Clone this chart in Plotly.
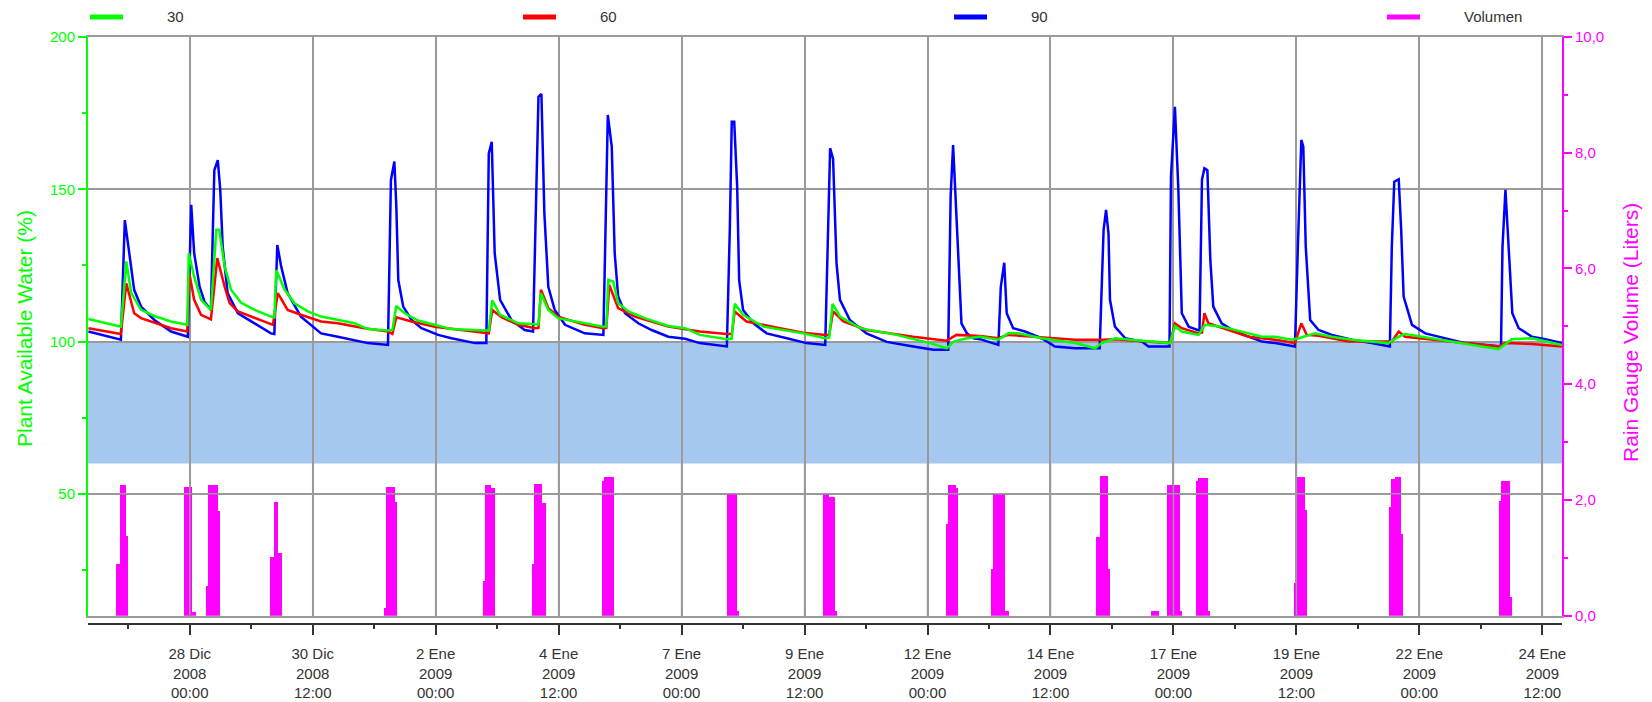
import pandas as pd
import plotly.graph_objects as go

BASE = pd.Timestamp("2008-12-28 00:00")

# [days after 28 Dic 2008 00:00, plant available water %]
pawc_30 = [
    (-2.06, 107.4), (-1.40, 104.9), (-1.29, 126.3), (-1.19, 115.9), (-0.99, 110.4), (-0.72, 108.4),
    (-0.38, 106.6), (-0.05, 105.5), (-0.02, 129.0), (0.09, 121.3), (0.23, 113.7), (0.43, 110.4),
    (0.54, 136.7), (0.60, 136.7), (0.71, 124.6), (0.84, 117.0), (1.04, 112.8), (1.32, 110.4),
    (1.65, 108.2), (1.72, 108.0), (1.76, 123.5), (1.93, 117.0), (2.13, 112.6), (2.40, 109.9),
    (2.67, 108.2), (3.01, 107.1), (3.35, 106.0), (3.62, 104.1), (4.03, 103.6), (4.12, 103.8),
    (4.20, 111.7), (4.37, 109.3), (4.64, 106.9), (4.98, 105.5), (5.32, 104.1), (6.00, 103.6),
    (6.08, 103.6), (6.15, 113.5), (6.31, 108.8), (6.68, 106.0), (7.02, 105.5), (7.09, 105.6),
    (7.14, 115.9), (7.29, 110.4), (7.49, 107.7), (8.03, 106.2), (8.41, 104.9), (8.47, 105.0),
    (8.51, 120.2), (8.61, 119.7), (8.71, 112.6), (8.92, 109.9), (9.25, 107.7), (9.73, 105.1),
    (10.07, 104.4), (10.37, 102.2), (10.92, 100.8), (11.02, 101.0), (11.08, 112.4), (11.25, 108.8),
    (11.66, 104.9), (12.47, 102.7), (12.92, 101.1), (13.00, 101.3), (13.07, 112.4), (13.22, 108.2),
    (13.63, 104.4), (14.37, 102.2), (15.05, 99.5), (15.39, 97.8), (15.53, 100.0), (15.80, 101.1),
    (16.07, 101.6), (16.44, 100.6), (16.64, 102.7), (16.85, 102.7), (17.32, 101.1), (18.00, 99.5),
    (18.41, 97.8), (18.54, 99.5), (18.81, 101.1), (19.36, 100.3), (19.93, 99.5), (20.03, 105.1),
    (20.17, 103.3), (20.51, 102.2), (20.64, 105.5), (20.98, 104.9), (21.39, 103.3), (21.80, 101.6),
    (22.07, 101.6), (22.41, 100.6), (22.54, 101.1), (22.88, 102.7), (23.22, 101.6), (23.63, 100.6),
    (24.37, 99.5), (24.58, 101.6), (24.71, 102.5), (25.25, 101.1), (25.93, 99.5), (26.61, 97.5),
    (26.88, 100.8), (27.29, 101.1), (27.90, 98.9),
]
pawc_60 = [
    (-2.06, 104.4), (-1.40, 102.5), (-1.29, 119.1), (-1.13, 109.3), (-0.99, 107.7), (-0.72, 106.2),
    (-0.38, 104.4), (-0.05, 103.3), (-0.01, 122.4), (0.09, 113.7), (0.23, 108.8), (0.43, 107.3),
    (0.56, 127.4), (0.71, 118.0), (0.81, 112.6), (0.98, 109.9), (1.32, 107.7), (1.69, 105.5),
    (1.79, 115.9), (1.99, 110.4), (2.26, 108.8), (2.67, 106.6), (3.01, 106.0), (3.55, 104.4),
    (4.03, 103.3), (4.12, 102.5), (4.20, 108.0), (4.51, 106.6), (4.98, 104.9), (6.00, 102.7),
    (6.08, 102.7), (6.15, 110.4), (6.34, 108.0), (6.68, 105.5), (7.02, 104.4), (7.09, 104.5),
    (7.14, 117.0), (7.29, 111.0), (7.49, 108.2), (8.03, 105.5), (8.41, 104.4), (8.47, 104.5),
    (8.53, 118.6), (8.71, 111.0), (9.05, 108.2), (9.73, 104.9), (10.07, 104.1), (10.37, 103.3),
    (10.92, 102.5), (11.02, 102.5), (11.08, 109.9), (11.32, 106.6), (12.00, 104.4), (12.47, 102.9),
    (12.92, 102.2), (13.00, 102.2), (13.08, 109.9), (13.29, 106.6), (13.76, 103.8), (14.71, 101.6),
    (15.39, 100.3), (15.59, 102.2), (16.07, 101.8), (16.44, 101.1), (16.64, 102.2), (17.32, 101.4),
    (18.00, 100.6), (18.54, 100.6), (18.81, 100.8), (19.93, 99.5), (20.03, 106.0), (20.17, 104.4),
    (20.51, 102.7), (20.58, 103.0), (20.63, 109.3), (20.71, 106.0), (21.12, 103.8), (21.53, 101.6),
    (22.07, 100.6), (22.47, 99.5), (22.60, 106.0), (22.71, 102.2), (22.95, 101.9), (23.56, 100.0),
    (24.44, 100.0), (24.58, 103.3), (24.71, 101.6), (25.25, 100.6), (25.93, 99.5), (26.61, 98.4),
    (26.75, 99.5), (27.29, 99.2), (27.90, 98.4),
]
pawc_90 = [
    (-2.06, 103.3), (-1.40, 100.6), (-1.32, 139.9), (-1.23, 129.0), (-1.13, 117.0), (-0.99, 111.5),
    (-0.72, 107.1), (-0.38, 103.3), (-0.04, 101.6), (0.03, 144.9), (0.09, 129.0), (0.20, 118.0),
    (0.30, 113.1), (0.43, 110.4), (0.50, 156.3), (0.57, 159.6), (0.62, 149.8), (0.67, 131.2),
    (0.77, 115.9), (0.98, 109.3), (1.32, 106.0), (1.65, 102.7), (1.72, 102.5), (1.78, 131.7),
    (1.86, 124.6), (1.99, 115.9), (2.26, 108.2), (2.67, 102.7), (3.01, 101.6), (3.35, 100.5),
    (3.62, 99.5), (4.03, 98.9), (4.09, 153.0), (4.16, 159.1), (4.20, 144.3), (4.24, 120.2),
    (4.34, 111.5), (4.51, 107.1), (4.71, 104.4), (5.05, 102.2), (5.32, 101.1), (5.80, 99.5),
    (6.03, 99.5), (6.08, 161.8), (6.14, 165.6), (6.20, 129.0), (6.31, 113.7), (6.54, 107.1),
    (6.81, 103.8), (6.98, 103.3), (7.09, 180.4), (7.15, 181.3), (7.21, 142.1), (7.29, 118.0),
    (7.42, 110.4), (7.63, 105.5), (8.03, 102.7), (8.41, 102.2), (8.50, 174.4), (8.58, 164.0),
    (8.64, 129.0), (8.71, 114.8), (8.85, 109.3), (9.12, 106.0), (9.39, 103.8), (9.73, 101.6),
    (10.07, 100.9), (10.37, 99.5), (10.92, 98.4), (10.98, 136.7), (11.02, 172.2), (11.07, 172.2),
    (11.13, 150.9), (11.17, 120.2), (11.25, 110.4), (11.46, 106.0), (11.73, 102.7), (12.14, 101.1),
    (12.54, 99.5), (12.92, 98.9), (13.02, 163.5), (13.08, 160.0), (13.15, 125.7), (13.22, 113.7),
    (13.42, 107.1), (13.76, 102.7), (14.17, 99.9), (14.71, 98.4), (15.12, 97.3), (15.42, 97.3),
    (15.47, 147.6), (15.52, 164.5), (15.56, 149.8), (15.63, 124.6), (15.69, 106.0), (15.80, 102.7),
    (15.93, 101.1), (16.07, 100.8), (16.44, 98.9), (16.49, 118.0), (16.56, 125.9), (16.61, 109.3),
    (16.74, 104.4), (16.98, 103.3), (17.32, 101.1), (17.59, 98.4), (18.00, 97.8), (18.50, 97.8),
    (18.58, 136.7), (18.63, 143.2), (18.68, 135.4), (18.71, 113.7), (18.81, 104.9), (19.02, 101.1),
    (19.36, 100.0), (19.49, 98.4), (19.92, 98.4), (19.95, 154.2), (20.03, 177.1), (20.10, 149.8),
    (20.17, 109.3), (20.31, 104.9), (20.53, 103.6), (20.58, 153.1), (20.63, 156.9), (20.69, 156.3),
    (20.75, 126.8), (20.81, 111.5), (20.98, 106.0), (21.25, 103.3), (21.53, 101.6), (21.80, 100.0),
    (22.07, 99.5), (22.47, 98.4), (22.53, 131.2), (22.60, 166.2), (22.64, 164.0), (22.69, 131.2),
    (22.78, 107.1), (22.95, 103.8), (23.22, 102.2), (23.63, 100.6), (24.03, 99.5), (24.40, 98.4),
    (24.44, 131.2), (24.49, 152.5), (24.58, 153.3), (24.63, 136.7), (24.68, 114.8), (24.85, 105.5),
    (25.12, 102.7), (25.53, 101.1), (25.93, 99.5), (26.66, 98.4), (26.69, 131.0), (26.75, 149.8),
    (26.81, 133.4), (26.89, 109.3), (27.02, 104.4), (27.29, 101.6), (27.56, 100.8), (27.90, 99.5),
]

# hourly rain gauge bins: [hour after 28 Dic 2008 00:00, liters]
rain = [
    (-36, 0.90), (-35, 0.90), (-34, 2.26), (-33, 2.26), (-32, 2.26), (-31, 1.38),
    (-3, 2.23), (-2, 2.23), (-1, 2.23), (0, 2.23), (1, 0.07), (2, 0.07),
    (8, 0.51), (9, 2.26), (10, 2.26), (11, 2.26), (12, 2.26), (13, 2.26), (14, 1.81),
    (39, 1.02), (40, 1.02), (41, 1.96), (42, 1.96), (43, 1.08), (44, 1.08),
    (95, 0.13), (96, 2.23), (97, 2.23), (98, 2.23), (99, 2.23), (100, 1.97),
    (143, 0.60), (144, 2.25), (145, 2.25), (146, 2.25), (147, 2.20), (148, 2.20),
    (167, 0.90), (168, 2.27), (169, 2.27), (170, 2.27), (171, 2.27), (172, 1.94), (173, 1.94),
    (201, 2.33), (202, 2.40), (203, 2.40), (204, 2.40), (205, 2.40), (206, 2.40),
    (262, 2.12), (263, 2.12), (264, 2.12), (265, 2.12), (266, 2.12), (267, 0.08),
    (309, 2.12), (310, 2.12), (311, 2.12), (312, 2.05), (313, 2.05), (314, 2.05), (315, 0.08),
    (369, 1.59), (370, 2.25), (371, 2.25), (372, 2.25), (373, 2.25), (374, 2.20),
    (391, 0.81), (392, 2.12), (393, 2.12), (394, 2.12), (395, 2.12), (396, 2.12), (397, 2.12),
    (398, 0.08), (399, 0.08),
    (442, 1.36), (443, 1.36), (444, 2.42), (445, 2.42), (446, 2.42), (447, 2.42), (448, 0.80),
    (469, 0.08), (470, 0.08), (471, 0.08), (472, 0.08),
    (477, 2.25), (478, 2.25), (479, 2.25), (480, 2.25), (481, 2.25), (482, 2.25), (483, 0.08),
    (491, 2.33), (492, 2.38), (493, 2.38), (494, 2.38), (495, 2.38), (496, 2.38), (497, 0.08),
    (539, 0.57), (540, 2.40), (541, 2.40), (542, 2.40), (543, 2.40), (544, 1.83),
    (585, 1.88), (586, 2.36), (587, 2.36), (588, 2.40), (589, 2.40), (590, 2.40), (591, 1.42),
    (639, 1.99), (640, 2.32), (641, 2.32), (642, 2.32), (643, 2.32), (644, 0.33),
]

tick_dates = ["2008-12-28 00:00", "2008-12-30 12:00", "2009-01-02 00:00", "2009-01-04 12:00",
              "2009-01-07 00:00", "2009-01-09 12:00", "2009-01-12 00:00", "2009-01-14 12:00",
              "2009-01-17 00:00", "2009-01-19 12:00", "2009-01-22 00:00", "2009-01-24 12:00"]
tick_labels = ["28 Dic<br>2008<br>00:00", "30 Dic<br>2008<br>12:00", "2 Ene<br>2009<br>00:00",
               "4 Ene<br>2009<br>12:00", "7 Ene<br>2009<br>00:00", "9 Ene<br>2009<br>12:00",
               "12 Ene<br>2009<br>00:00", "14 Ene<br>2009<br>12:00", "17 Ene<br>2009<br>00:00",
               "19 Ene<br>2009<br>12:00", "22 Ene<br>2009<br>00:00", "24 Ene<br>2009<br>12:00"]
x_range = ["2008-12-25 22:21", "2009-01-24 21:36"]
band = (60, 100)
series_names = ["30", "60", "90", "Volumen"]

# ---------------- styling ----------------
# the page body has an 8px default margin: the figure is sized/placed so the
# drawing lands where the original's pixels are
OFF = 8
W, H = 1652 - OFF, 702 - OFF
PLOT_L, PLOT_R, PLOT_T, AXIS_B = 88, 1562, 37, 624      # in screen pixels
ML, MT = PLOT_L - OFF, PLOT_T - OFF
MR = W - (PLOT_R - OFF)
MB = H - (AXIS_B - OFF)
PLOT_W = PLOT_R - PLOT_L
PLOT_H = AXIS_B - PLOT_T
DOM0 = 8.3 / PLOT_H
FONT = "Liberation Sans, Arial, sans-serif"
GREEN, RED, BLUE, MAG = "#00ff00", "#ff0000", "#0000ff", "#ff00ff"
GRID = "#9a9a9a"


def px_x(px):
    return (px - PLOT_L) / PLOT_W


def px_y(py):
    return (AXIS_B - py) / PLOT_H


def to_time(days):
    return [BASE + pd.to_timedelta(d, unit="D") for d in days]


fig = go.Figure()

rain_x = [BASE + pd.to_timedelta(h + 0.5, unit="h") for h, _ in rain]
rain_y = [v for _, v in rain]
fig.add_trace(go.Bar(x=rain_x, y=rain_y, width=[3600000] * len(rain_x), marker=dict(color=MAG, line=dict(width=0)),
                     name=series_names[3], yaxis="y2", showlegend=False))

for data, color, name in [(pawc_90, BLUE, series_names[2]), (pawc_60, RED, series_names[1]), (pawc_30, GREEN, series_names[0])]:
    fig.add_trace(go.Scatter(x=to_time([d for d, _ in data]), y=[v for _, v in data], mode="lines",
                             line=dict(color=color, width=2.5), name=name, showlegend=False))

# carrier for the lower date axis
fig.add_trace(go.Scatter(x=[x_range[0]], y=[None], xaxis="x2", mode="lines", showlegend=False, hoverinfo="skip"))

shapes = [dict(type="rect", xref="paper", x0=0, x1=1, yref="y", y0=band[0], y1=band[1],
               fillcolor="#a7c8ee", line=dict(width=0), layer="below")]
# grid lines are drawn over the rain bars in the reference
for t in tick_dates:
    shapes.append(dict(type="line", xref="x", x0=t, x1=t, yref="y", y0=10, y1=band[0],
                       line=dict(color=GRID, width=1.5), layer="above"))
shapes.append(dict(type="line", xref="paper", x0=0, x1=1, yref="y", y0=50, y1=50,
                   line=dict(color=GRID, width=1.5), layer="above"))

# legend (manual, matching the wide spacing of the original)
legend_items = [(series_names[0], GREEN, 90), (series_names[1], RED, 523), (series_names[2], BLUE, 954), (series_names[3], MAG, 1387)]
annotations = []
for name, color, lx in legend_items:
    shapes.append(dict(type="line", xref="paper", yref="paper", x0=px_x(lx), x1=px_x(lx + 33),
                       y0=px_y(17), y1=px_y(17), line=dict(color=color, width=5)))
    annotations.append(dict(xref="paper", yref="paper", x=px_x(lx + 75), y=px_y(17), text=name,
                            showarrow=False, xanchor="left", yanchor="middle",
                            font=dict(family=FONT, size=15, color="#333333")))

annotations.append(dict(xref="paper", yref="paper", x=px_x(24), y=px_y(329), text="Plant Available Water (%)",
                        textangle=-90, showarrow=False, xanchor="center", yanchor="middle",
                        font=dict(family=FONT, size=21, color=GREEN)))
annotations.append(dict(xref="paper", yref="paper", x=px_x(1631), y=px_y(333), text="Rain Gauge Volume (Liters)",
                        textangle=-90, showarrow=False, xanchor="center", yanchor="middle",
                        font=dict(family=FONT, size=21, color=MAG)))

fig.update_layout(
    width=W, height=H,
    margin=dict(l=ML, r=MR, t=MT, b=MB, pad=0, autoexpand=False),
    paper_bgcolor="white", plot_bgcolor="white",
    separators=",.",
    bargap=0,
    showlegend=False,
    shapes=shapes,
    annotations=annotations,
    font=dict(family=FONT),
    xaxis=dict(type="date", range=x_range, domain=[0, 1], anchor="y", automargin=False,
               tickmode="array", tickvals=tick_dates, ticktext=[""] * len(tick_dates),
               showticklabels=False, ticks="", showgrid=True, gridcolor=GRID, gridwidth=1.5,
               showline=True, linecolor=GRID, linewidth=2, mirror=True, zeroline=False),
    xaxis2=dict(type="date", range=x_range, overlaying="x", anchor="free", position=0, automargin=False,
                tickmode="array", tickvals=tick_dates, ticktext=tick_labels,
                ticks="outside", ticklen=10, tickwidth=1.5, tickcolor="#333333", ticklabelstandoff=6,
                showline=True, linecolor="#333333", linewidth=2, showgrid=False, zeroline=False,
                tickfont=dict(family=FONT, size=15, color="#333333"),
                minor=dict(ticks="outside", ticklen=4, tickwidth=1.5, tickcolor="#333333",
                           tick0="2008-12-26 18:00", dtick=108000000, showgrid=False)),
    yaxis=dict(range=[10, 200], domain=[DOM0, 1], tickmode="linear", tick0=0, dtick=50, automargin=False,
               ticks="outside", ticklen=8, tickwidth=1.5, tickcolor=GREEN,
               showline=True, linecolor=GREEN, linewidth=2, showgrid=True, gridcolor=GRID, gridwidth=1.5,
               zeroline=False, tickfont=dict(family=FONT, size=15, color=GREEN),
               minor=dict(ticks="outside", ticklen=4, tickwidth=1.5, tickcolor=GREEN, tick0=0, dtick=25, showgrid=False)),
    yaxis2=dict(range=[0, 10], overlaying="y", side="right", anchor="x", tickmode="linear", tick0=0, dtick=2,
                automargin=False, tickformat=".1f", ticks="outside", ticklen=8, tickwidth=1.5, tickcolor=MAG,
                showline=True, linecolor=MAG, linewidth=2, showgrid=False, zeroline=False,
                tickfont=dict(family=FONT, size=15, color=MAG),
                minor=dict(ticks="outside", ticklen=4, tickwidth=1.5, tickcolor=MAG, tick0=0, dtick=1, showgrid=False)),
)

fig.write_html("out.html")
